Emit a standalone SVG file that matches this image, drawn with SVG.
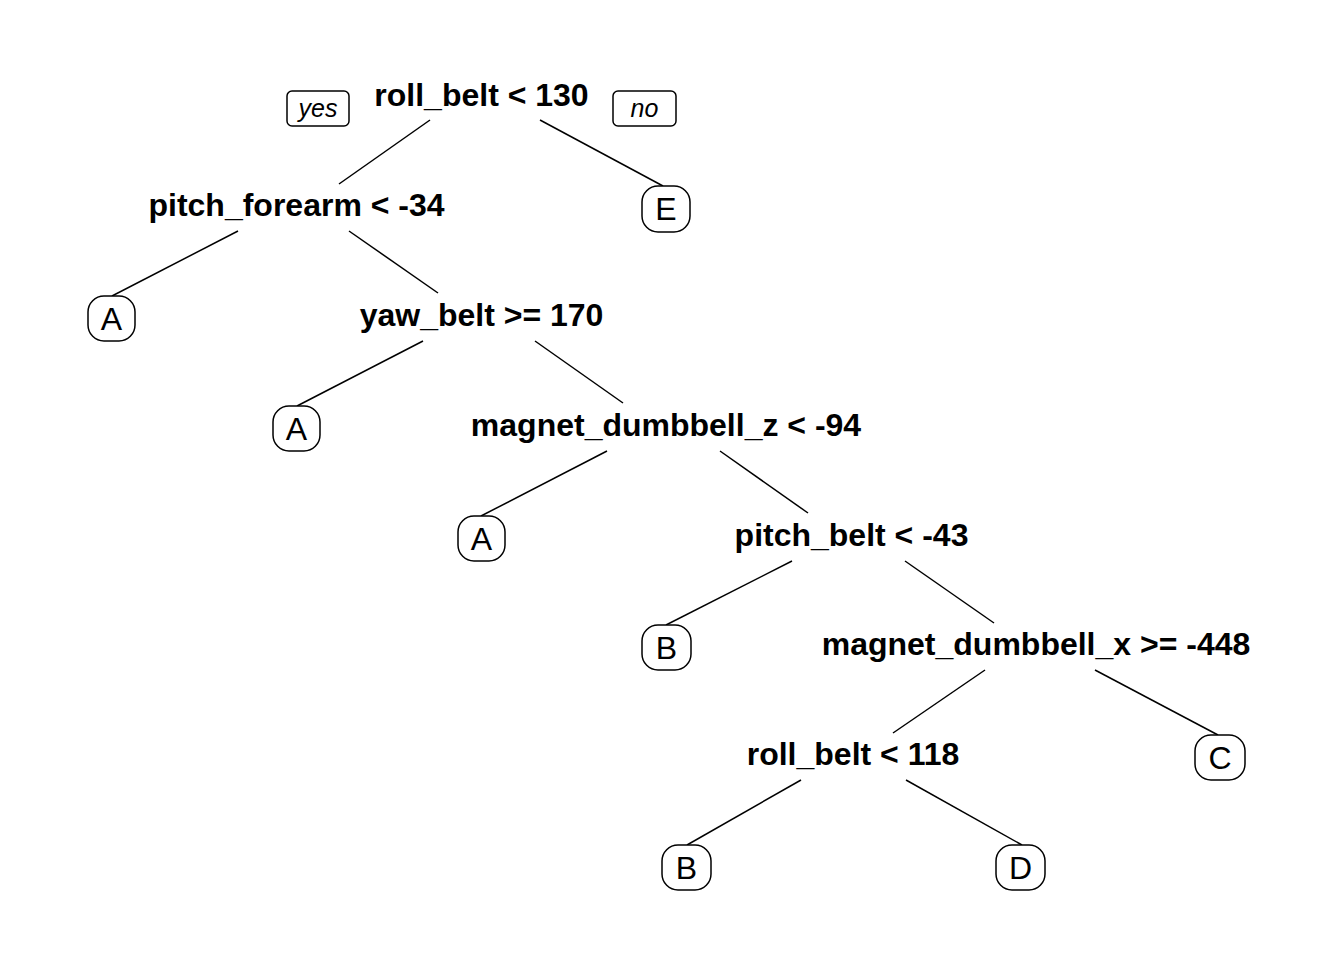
<svg xmlns="http://www.w3.org/2000/svg" width="1344" height="960" viewBox="0 0 1344 960">
<style>
.split{font-family:"Liberation Sans",Arial,sans-serif;font-weight:bold;font-size:32px;text-anchor:middle;fill:#000}
.leaf rect{fill:#fff;stroke:#000;stroke-width:1.5}
.leaf text{font-family:"Liberation Sans",Arial,sans-serif;font-size:32px;text-anchor:middle;fill:#000}
.yn rect{fill:#fff;stroke:#000;stroke-width:1.5}
.yn text{font-family:"Liberation Sans",Arial,sans-serif;font-style:italic;font-size:25px;text-anchor:middle;fill:#000}
#connectors line{stroke:#000;stroke-width:1.5}
</style>
<rect width="1344" height="960" fill="#fff"/>
<g id="connectors">
<line x1="430" y1="120" x2="339" y2="184"/>
<line x1="540" y1="120" x2="663" y2="186"/>
<line x1="238" y1="231" x2="112" y2="296"/>
<line x1="349" y1="231" x2="438" y2="293"/>
<line x1="423" y1="341" x2="297" y2="406"/>
<line x1="535" y1="341" x2="623" y2="403"/>
<line x1="607" y1="451" x2="481" y2="516"/>
<line x1="720" y1="451" x2="808" y2="513"/>
<line x1="792" y1="561" x2="666" y2="625"/>
<line x1="905" y1="561" x2="994" y2="623"/>
<line x1="985" y1="670" x2="893" y2="733"/>
<line x1="1095" y1="670" x2="1218" y2="735"/>
<line x1="801" y1="780" x2="687" y2="845"/>
<line x1="906" y1="780" x2="1022" y2="845"/>
</g>
<g id="yes" class="yn"><rect x="287" y="91" width="62" height="35" rx="5"/><text x="318" y="117">yes</text></g>
<g id="no" class="yn"><rect x="613" y="91" width="63" height="35" rx="5"/><text x="644.5" y="117">no</text></g>
<g id="n1"><text class="split" x="481.5" y="106">roll_belt &lt; 130</text></g>
<g id="n2"><text class="split" x="296.5" y="216">pitch_forearm &lt; -34</text></g>
<g id="n3"><text class="split" x="481.5" y="326">yaw_belt &gt;= 170</text></g>
<g id="n4"><text class="split" x="666" y="436">magnet_dumbbell_z &lt; -94</text></g>
<g id="n5"><text class="split" x="851.5" y="546">pitch_belt &lt; -43</text></g>
<g id="n6"><text class="split" x="1036" y="655">magnet_dumbbell_x &gt;= -448</text></g>
<g id="n7"><text class="split" x="853" y="765">roll_belt &lt; 118</text></g>
<g id="leafE" class="leaf"><rect x="642" y="186" width="48" height="46" rx="16"/><text x="666" y="220">E</text></g>
<g id="leafA1" class="leaf"><rect x="88" y="296" width="47" height="45" rx="16"/><text x="111.5" y="330">A</text></g>
<g id="leafA2" class="leaf"><rect x="273" y="406" width="47" height="45" rx="16"/><text x="296.5" y="440">A</text></g>
<g id="leafA3" class="leaf"><rect x="458" y="516" width="47" height="45" rx="16"/><text x="481.5" y="550">A</text></g>
<g id="leafB1" class="leaf"><rect x="642" y="625" width="49" height="45" rx="16"/><text x="666.5" y="659">B</text></g>
<g id="leafC" class="leaf"><rect x="1195" y="735" width="50" height="45" rx="16"/><text x="1220" y="769">C</text></g>
<g id="leafB2" class="leaf"><rect x="662" y="845" width="49" height="45" rx="16"/><text x="686.5" y="879">B</text></g>
<g id="leafD" class="leaf"><rect x="996" y="845" width="49" height="45" rx="16"/><text x="1020.5" y="879">D</text></g>
</svg>
